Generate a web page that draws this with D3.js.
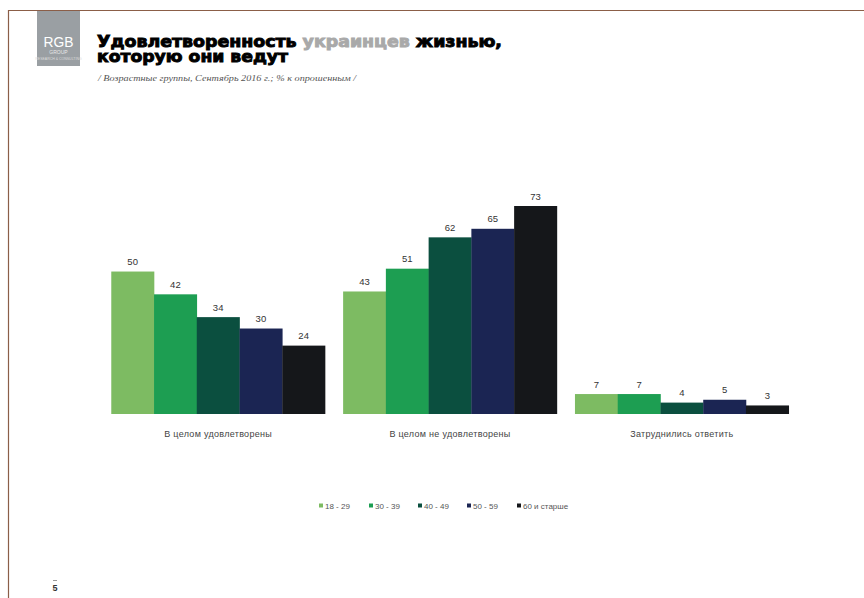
<!DOCTYPE html>
<html><head><meta charset="utf-8">
<script src="https://cdn.jsdelivr.net/npm/d3@7"></script>
<style>body{margin:0;background:#fff}svg{display:block}</style>
</head><body>
<svg id="c" width="864" height="598"></svg>
<script>
const categories = ["В целом удовлетворены", "В целом не удовлетворены", "Затруднились ответить"];
const seriesNames = ["18 - 29", "30 - 39", "40 - 49", "50 - 59", "60 и старше"];
const values18_29 = [50, 43, 7];
const values30_39 = [42, 51, 7];
const values40_49 = [34, 62, 4];
const values50_59 = [30, 65, 5];
const values60plus = [24, 73, 3];
const seriesColors = ["#7dbb62", "#1d9e52", "#0b4f3f", "#1b2553", "#15171a"];

const allSeries = [values18_29, values30_39, values40_49, values50_59, values60plus];
const svg = d3.select("#c");

// frame
svg.append("line").attr("x1", 8).attr("x2", 864).attr("y1", 10.5).attr("y2", 10.5).attr("stroke", "#8b5e48").attr("stroke-width", 1.2);
svg.append("line").attr("x1", 8.5).attr("x2", 8.5).attr("y1", 10).attr("y2", 598).attr("stroke", "#8b5e48").attr("stroke-width", 1.2);

// logo
svg.append("rect").attr("x", 37).attr("y", 11).attr("width", 43).attr("height", 55).attr("fill", "#9a9fa3");
svg.append("text").attr("x", 58.5).attr("y", 47).attr("text-anchor", "middle").attr("fill", "#fff")
  .attr("font-family", "Liberation Sans, Arial").attr("font-size", 14).attr("textLength", 30).attr("lengthAdjust", "spacingAndGlyphs").text("RGB");
svg.append("text").attr("x", 58.5).attr("y", 54).attr("text-anchor", "middle").attr("fill", "#e8e8e8")
  .attr("font-family", "Liberation Sans, Arial").attr("font-size", 5).text("GROUP");
svg.append("text").attr("x", 58.5).attr("y", 60).attr("text-anchor", "middle").attr("fill", "#dcdcdc")
  .attr("font-family", "Liberation Sans, Arial").attr("font-size", 3.5).text("RESEARCH & CONSULTING");

// title
const titleFont = "DejaVu Sans, Liberation Sans";
const t1 = svg.append("text").attr("x", 97).attr("y", 46.5)
  .attr("font-family", titleFont).attr("font-weight", "bold").attr("font-size", 15).attr("fill", "#000")
  .attr("stroke", "#000").attr("stroke-width", 0.9)
  .attr("textLength", 405).attr("lengthAdjust", "spacingAndGlyphs");
t1.append("tspan").text("Удовлетворенность ");
t1.append("tspan").attr("fill", "#a9a9a9").attr("stroke", "#a9a9a9").text("украинцев");
t1.append("tspan").text(" жизнью,");
svg.append("text").attr("x", 97).attr("y", 62)
  .attr("font-family", titleFont).attr("font-weight", "bold").attr("font-size", 15).attr("fill", "#000")
  .attr("stroke", "#000").attr("stroke-width", 0.9)
  .attr("textLength", 191).attr("lengthAdjust", "spacingAndGlyphs")
  .text("которую они ведут");
svg.append("text").attr("x", 98).attr("y", 81)
  .attr("font-family", "Liberation Serif, serif").attr("font-style", "italic").attr("font-size", 8).attr("fill", "#555")
  .attr("textLength", 258).attr("lengthAdjust", "spacingAndGlyphs")
  .text("/ Возрастные группы, Сентябрь 2016 г.; % к опрошенным /");

// chart
const x0 = d3.scaleBand().domain(categories).range([102, 798]).paddingInner(0.078).paddingOuter(0.04);
const x1 = d3.scaleBand().domain(seriesNames).range([0, x0.bandwidth()]);
const y = d3.scaleLinear().domain([0, 73]).range([414, 206]);

const g = svg.append("g");
categories.forEach((cat, ci) => {
  seriesNames.forEach((s, si) => {
    const v = allSeries[si][ci];
    g.append("rect")
      .attr("x", x0(cat) + x1(s)).attr("y", y(v))
      .attr("width", x1.bandwidth() + 0.3).attr("height", y(0) - y(v))
      .attr("fill", seriesColors[si]);
    g.append("text")
      .attr("x", x0(cat) + x1(s) + x1.bandwidth() / 2).attr("y", y(v) - 6.5)
      .attr("text-anchor", "middle").attr("font-family", "Liberation Sans, Arial").attr("font-size", 9.5).attr("fill", "#333")
      .text(v);
  });
  g.append("text")
    .attr("x", x0(cat) + x0.bandwidth() / 2).attr("y", 437)
    .attr("text-anchor", "middle").attr("font-family", "Liberation Sans, Arial").attr("font-size", 9).attr("letter-spacing", 0.3).attr("fill", "#444")
    .text(cat);
});

// legend
const legendX = [319, 369, 418, 467, 517];
seriesNames.forEach((s, i) => {
  svg.append("rect").attr("x", legendX[i]).attr("y", 503.5).attr("width", 4).attr("height", 4).attr("fill", seriesColors[i]);
  svg.append("text").attr("x", legendX[i] + 6).attr("y", 509)
    .attr("font-family", "Liberation Sans, Arial").attr("font-size", 8).attr("fill", "#555").text(s);
});

// page number
svg.append("text").attr("x", 55).attr("y", 591).attr("text-anchor", "middle")
  .attr("font-family", "Liberation Sans, Arial").attr("font-weight", "bold").attr("font-size", 9).attr("fill", "#333").text("5");
svg.append("line").attr("x1", 53).attr("x2", 57).attr("y1", 580.5).attr("y2", 580.5).attr("stroke", "#999").attr("stroke-width", 1);
</script>
</body></html>
